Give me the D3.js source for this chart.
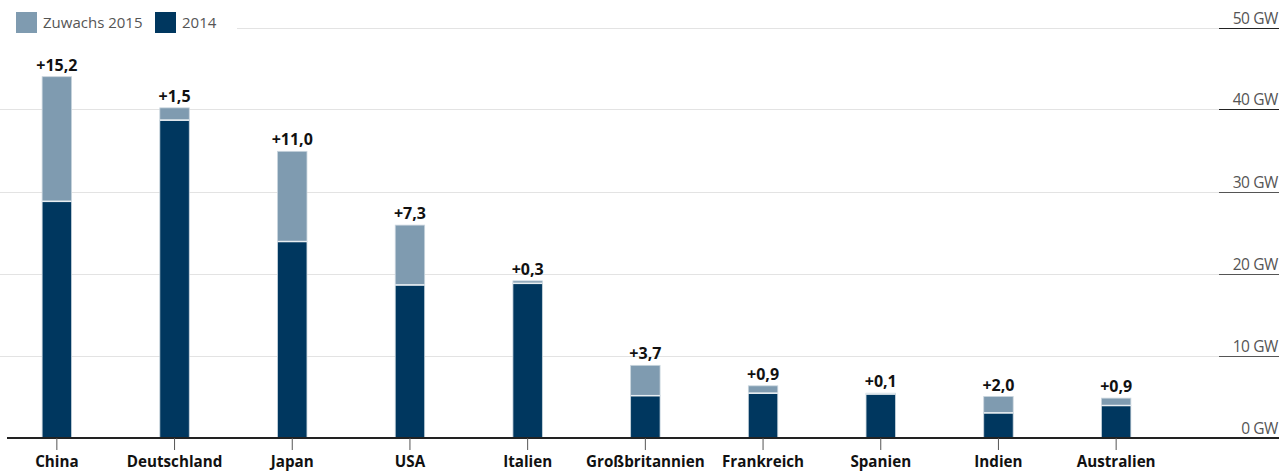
<!DOCTYPE html>
<html><head><meta charset="utf-8">
<script src="https://cdn.jsdelivr.net/npm/d3@7"></script>
<style>body{margin:0;background:#fff}svg{display:block;font-family:"Open Sans",sans-serif}</style>
</head><body><svg id="c" width="1286" height="473"></svg>
<script>
const categories = ["China","Deutschland","Japan","USA","Italien","Großbritannien","Frankreich","Spanien","Indien","Australien"];
const base2014 = [28.8,38.7,23.9,18.6,18.8,5.1,5.4,5.3,3.0,3.9];
const zuwachs2015 = [15.2,1.5,11.0,7.3,0.3,3.7,0.9,0.1,2.0,0.9];
const zuwachsLabels = ["+15,2","+1,5","+11,0","+7,3","+0,3","+3,7","+0,9","+0,1","+2,0","+0,9"];
const yTicks = [0,10,20,30,40,50];
const legendItems = ["Zuwachs 2015","2014"];

const cLight = "#7f9bb0", cDark = "#00375f";
const svg = d3.select("#c");
const x = d3.scaleBand().domain(categories).range([-2,1175]).paddingInner(0.75).paddingOuter(0.375);
const y = d3.scaleLinear().domain([0,50]).range([437.5,27.5]);

// grid
const g = svg.append("g");
yTicks.forEach(t=>{
  if(t>0){
    g.append("line").attr("x1", t===50?237:0).attr("x2",1219).attr("y1",Math.round(y(t))+0.5).attr("y2",Math.round(y(t))+0.5).attr("stroke","#e3e3e3").attr("stroke-width",1);
  }
  g.append("line").attr("x1", t===0?7:1219).attr("x2",1279).attr("y1",Math.round(y(t))+0.5).attr("y2",Math.round(y(t))+0.5).attr("stroke", t===0||t>=40?"#222":"#555").attr("stroke-width",1.2);
  g.append("text").attr("x",1278).attr("y",Math.round(y(t))-4).attr("text-anchor","end").attr("font-size",15.5).attr("fill","#555").attr("letter-spacing","-0.4").text(t+" GW");
});

// bars
const bars = svg.append("g");
categories.forEach((c,i)=>{
  const bx = x(c), bw = x.bandwidth();
  bars.append("rect").attr("x",bx).attr("width",bw).attr("y",y(base2014[i]+zuwachs2015[i])).attr("height",y(base2014[i])-y(base2014[i]+zuwachs2015[i])).attr("fill",cLight).attr("stroke","#c9d5de").attr("stroke-width",0.8);
  bars.append("rect").attr("x",bx).attr("width",bw).attr("y",y(base2014[i])).attr("height",y(0)-y(base2014[i])).attr("fill",cDark).attr("stroke","#c9d5de").attr("stroke-width",0.8);
  bars.append("line").attr("x1",bx).attr("x2",bx+bw).attr("y1",y(base2014[i])).attr("y2",y(base2014[i])).attr("stroke","#e8eef2").attr("stroke-width",1.5);
  bars.append("text").attr("x",bx+bw/2).attr("y",y(base2014[i]+zuwachs2015[i])-6).attr("text-anchor","middle").attr("font-size",16).attr("font-weight","bold").attr("fill","#111").text(zuwachsLabels[i]);
});

// baseline drawn above bars
svg.append("line").attr("x1",7).attr("x2",1279).attr("y1",437.5).attr("y2",437.5).attr("stroke","#222").attr("stroke-width",1.2);

// x axis
const xa = svg.append("g").attr("transform","translate(0,438)").call(d3.axisBottom(x).tickSize(12).tickPadding(5));
xa.select(".domain").remove();
xa.selectAll(".tick line").attr("stroke","#555");
xa.selectAll(".tick text").attr("font-size",15.2).attr("font-weight","bold").attr("fill","#111").attr("font-family","'Open Sans',sans-serif").attr("dy","0.82em");

// legend
const leg = svg.append("g");
[[16,cLight,43],[155,cDark,182]].forEach((d,i)=>{
  leg.append("rect").attr("x",d[0]).attr("y",12).attr("width",21).attr("height",21).attr("fill",d[1]);
  leg.append("text").attr("x",d[2]).attr("y",28).attr("font-size",15).attr("fill","#555").text(legendItems[i]);
});
</script></body></html>
